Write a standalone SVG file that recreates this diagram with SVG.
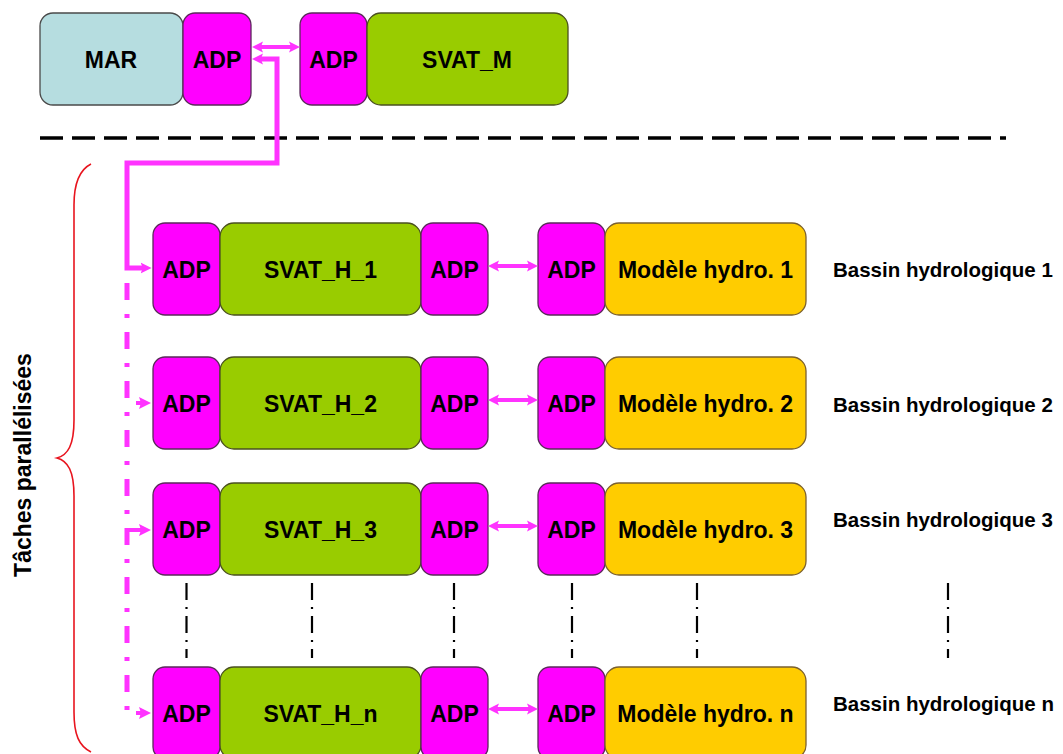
<svg xmlns="http://www.w3.org/2000/svg" width="1063" height="754" viewBox="0 0 1063 754">
<style>
  .box { stroke-width: 1.3; }
  .mar { fill: #B6DDE0; stroke: #4a4a4a; }
  .adp { fill: #FF00FF; stroke: #5a2a5a; }
  .svat { fill: #99CC00; stroke: #4a5020; }
  .hyd { fill: #FFCC00; stroke: #7a6030; }
  .lbl { font-family: "Liberation Sans", Arial, sans-serif; font-weight: bold; font-size: 23px; fill: #000; text-anchor: middle; }
  .bas { font-family: "Liberation Sans", Arial, sans-serif; font-weight: bold; font-size: 20.5px; fill: #000; }
  .mag { stroke: #FF33FF; fill: none; stroke-width: 4; }
  .mag5 { stroke: #FF33FF; fill: none; stroke-width: 5; }
  .vdots { stroke: #000; stroke-width: 2.2; stroke-dasharray: 17 7 2 7; fill: none; }
</style>
<defs>
  <marker id="ah" viewBox="0 0 10 10" refX="4" refY="5" markerWidth="11" markerHeight="12" markerUnits="userSpaceOnUse" orient="auto-start-reverse">
    <path d="M0,0 L10,5 L0,10 L2,5 z" fill="#FF33FF"/>
  </marker>
  <path id="head" d="M0,-6 L12,0 L0,6 L2,0 z" fill="#FF33FF"/>
</defs>

<!-- separator -->
<line x1="40" y1="138" x2="1006" y2="138" stroke="#000" stroke-width="3.5" stroke-dasharray="23 9"/>

<!-- top row -->
<g id="MAR"><rect class="box mar" x="40" y="13" width="143" height="92" rx="13"/><text class="lbl" x="111" y="68">MAR</text></g>
<g id="ADP_MAR"><rect class="box adp" x="183" y="13" width="68" height="92" rx="12"/><text class="lbl" x="217" y="68">ADP</text></g>
<g id="ADP_SVAT_M"><rect class="box adp" x="300" y="13" width="67" height="92" rx="12"/><text class="lbl" x="333.5" y="68">ADP</text></g>
<g id="SVAT_M"><rect class="box svat" x="367" y="13" width="201" height="92" rx="14"/><text class="lbl" x="467" y="68">SVAT_M</text></g>

<!-- rows -->
<g id="row1">
  <g id="ADP_H1a"><rect class="box adp" x="153" y="223" width="67" height="92" rx="12"/><text class="lbl" x="186.5" y="277.5">ADP</text></g>
  <g id="SVAT_H_1"><rect class="box svat" x="220" y="223" width="201" height="92" rx="14"/><text class="lbl" x="320.5" y="277.5">SVAT_H_1</text></g>
  <g id="ADP_H1b"><rect class="box adp" x="421" y="223" width="67" height="92" rx="12"/><text class="lbl" x="454.5" y="277.5">ADP</text></g>
  <g id="ADP_M1"><rect class="box adp" x="538" y="223" width="67" height="92" rx="12"/><text class="lbl" x="571.5" y="277.5">ADP</text></g>
  <g id="Hydro1"><rect class="box hyd" x="605" y="223" width="201" height="92" rx="14"/><text class="lbl" x="705.5" y="277.5">Modèle hydro. 1</text></g>
  <text class="bas" x="833" y="277">Bassin hydrologique 1</text>
</g>
<g id="row2">
  <g id="ADP_H2a"><rect class="box adp" x="153" y="357" width="67" height="92" rx="12"/><text class="lbl" x="186.5" y="411.5">ADP</text></g>
  <g id="SVAT_H_2"><rect class="box svat" x="220" y="357" width="201" height="92" rx="14"/><text class="lbl" x="320.5" y="411.5">SVAT_H_2</text></g>
  <g id="ADP_H2b"><rect class="box adp" x="421" y="357" width="67" height="92" rx="12"/><text class="lbl" x="454.5" y="411.5">ADP</text></g>
  <g id="ADP_M2"><rect class="box adp" x="538" y="357" width="67" height="92" rx="12"/><text class="lbl" x="571.5" y="411.5">ADP</text></g>
  <g id="Hydro2"><rect class="box hyd" x="605" y="357" width="201" height="92" rx="14"/><text class="lbl" x="705.5" y="411.5">Modèle hydro. 2</text></g>
  <text class="bas" x="833" y="412">Bassin hydrologique 2</text>
</g>
<g id="row3">
  <g id="ADP_H3a"><rect class="box adp" x="153" y="483" width="67" height="92" rx="12"/><text class="lbl" x="186.5" y="537.5">ADP</text></g>
  <g id="SVAT_H_3"><rect class="box svat" x="220" y="483" width="201" height="92" rx="14"/><text class="lbl" x="320.5" y="537.5">SVAT_H_3</text></g>
  <g id="ADP_H3b"><rect class="box adp" x="421" y="483" width="67" height="92" rx="12"/><text class="lbl" x="454.5" y="537.5">ADP</text></g>
  <g id="ADP_M3"><rect class="box adp" x="538" y="483" width="67" height="92" rx="12"/><text class="lbl" x="571.5" y="537.5">ADP</text></g>
  <g id="Hydro3"><rect class="box hyd" x="605" y="483" width="201" height="92" rx="14"/><text class="lbl" x="705.5" y="537.5">Modèle hydro. 3</text></g>
  <text class="bas" x="833" y="527">Bassin hydrologique 3</text>
</g>
<g id="rown">
  <g id="ADP_Hna"><rect class="box adp" x="153" y="667" width="67" height="92" rx="12"/><text class="lbl" x="186.5" y="721.5">ADP</text></g>
  <g id="SVAT_H_n"><rect class="box svat" x="220" y="667" width="201" height="92" rx="14"/><text class="lbl" x="320.5" y="721.5">SVAT_H_n</text></g>
  <g id="ADP_Hnb"><rect class="box adp" x="421" y="667" width="67" height="92" rx="12"/><text class="lbl" x="454.5" y="721.5">ADP</text></g>
  <g id="ADP_Mn"><rect class="box adp" x="538" y="667" width="67" height="92" rx="12"/><text class="lbl" x="571.5" y="721.5">ADP</text></g>
  <g id="Hydron"><rect class="box hyd" x="605" y="667" width="201" height="92" rx="14"/><text class="lbl" x="705.5" y="721.5">Modèle hydro. n</text></g>
  <text class="bas" x="833" y="711">Bassin hydrologique n</text>
</g>

<!-- ellipsis lines -->
<g id="ellipsis">
  <line class="vdots" x1="186.5" y1="583" x2="186.5" y2="658"/>
  <line class="vdots" x1="312" y1="583" x2="312" y2="658"/>
  <line class="vdots" x1="454" y1="583" x2="454" y2="658"/>
  <line class="vdots" x1="572" y1="583" x2="572" y2="658"/>
  <line class="vdots" x1="697" y1="583" x2="697" y2="658"/>
  <line class="vdots" x1="948" y1="583" x2="948" y2="658"/>
</g>

<!-- bracket and label -->
<g id="bracket">
  <path d="M91,164 C79,170 74,185 74,205 L74,420 C74,445 68,455 57,458 C68,461 74,471 74,496 L74,712 C74,735 79,746 91,752" fill="none" stroke="#E8141E" stroke-width="1.6"/>
  <text class="lbl" transform="translate(31,465) rotate(-90)">Tâches parallélisées</text>
</g>

<!-- connectors -->
<g id="connectors">
  <line class="mag" x1="258.6" y1="47" x2="293.4" y2="47" marker-start="url(#ah)" marker-end="url(#ah)"/>
  <polyline class="mag5" points="258.6,59 277,59 277,163 127,163 127,268 145,268" marker-start="url(#ah)" marker-end="url(#ah)"/>
  <line class="mag5" x1="127" y1="283" x2="127" y2="712" stroke-dasharray="17 14 4 14"/>
  <line class="mag" x1="136" y1="403" x2="142" y2="403"/>
  <use href="#head" x="139" y="403"/>
  <line class="mag" x1="127" y1="530" x2="142" y2="530"/>
  <use href="#head" x="139" y="530"/>
  <line class="mag" x1="136" y1="713" x2="142" y2="713"/>
  <use href="#head" x="139" y="713"/>
  <line class="mag" x1="494.6" y1="266" x2="531.4" y2="266" marker-start="url(#ah)" marker-end="url(#ah)"/>
  <line class="mag" x1="494.6" y1="400" x2="531.4" y2="400" marker-start="url(#ah)" marker-end="url(#ah)"/>
  <line class="mag" x1="494.6" y1="526" x2="531.4" y2="526" marker-start="url(#ah)" marker-end="url(#ah)"/>
  <line class="mag" x1="494.6" y1="709" x2="531.4" y2="709" marker-start="url(#ah)" marker-end="url(#ah)"/>
</g>
</svg>
